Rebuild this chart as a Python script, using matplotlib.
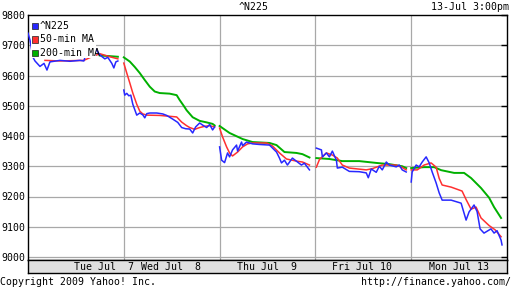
import numpy as np
import matplotlib
matplotlib.use("Agg")
import matplotlib.pyplot as plt
from matplotlib.patches import Rectangle

nan = np.nan

# time axis: trading days since Tue Jul 7 open (each day = 1 unit)
n225_t = [0.000, 0.021, 0.052, 0.073, 0.125, 0.167, 0.198, 0.229, 0.333, 0.438, 0.542, 0.583,
          0.625, 0.698, 0.750, 0.802, 0.833, 0.875, 0.896, 0.917, 0.938, nan,
          1.000, 1.010, 1.031, 1.052, 1.073, 1.094, 1.115, 1.135, 1.167, 1.198, 1.219, 1.240,
          1.271, 1.344, 1.406, 1.448, 1.510, 1.563, 1.604, 1.646, 1.688, 1.719, 1.750, 1.792,
          1.823, 1.865, 1.896, 1.927, 1.948, nan,
          2.000, 2.021, 2.052, 2.083, 2.104, 2.135, 2.177, 2.188, 2.229, 2.240, 2.281, 2.344,
          2.417, 2.521, 2.594, 2.625, 2.646, 2.677, 2.708, 2.760, 2.813, 2.854, 2.885, 2.917,
          2.938, nan,
          3.010, 3.063, 3.073, 3.115, 3.146, 3.177, 3.219, 3.229, 3.281, 3.354, 3.458, 3.531,
          3.552, 3.583, 3.635, 3.667, 3.698, 3.740, 3.771, 3.844, 3.875, 3.906, 3.948, nan,
          4.000, 4.010, 4.052, 4.083, 4.115, 4.156, 4.188, 4.219, 4.260, 4.292, 4.323, 4.417,
          4.521, 4.552, 4.573, 4.604, 4.656, 4.688, 4.719, 4.760, 4.792, 4.833, 4.865, 4.896,
          4.938, 4.948]
n225_v = [9740, 9717, 9660, 9648, 9630, 9640, 9618, 9645, 9650, 9647, 9650, 9648,
          9690, 9692, 9668, 9655, 9660, 9640, 9625, 9645, 9648, nan,
          9552, 9535, 9541, 9533, 9535, 9505, 9486, 9469, 9476, 9470, 9460, 9474,
          9476, 9476, 9473, 9468, 9456, 9445, 9428, 9424, 9423, 9410, 9430, 9443,
          9436, 9428, 9438, 9420, 9430, nan,
          9364, 9320, 9312, 9344, 9331, 9354, 9370, 9350, 9380, 9368, 9380, 9374,
          9372, 9370, 9347, 9327, 9311, 9320, 9304, 9327, 9314, 9304, 9310, 9297,
          9288, nan,
          9360, 9354, 9331, 9344, 9331, 9350, 9320, 9294, 9297, 9283, 9282, 9278,
          9262, 9291, 9280, 9300, 9288, 9314, 9304, 9298, 9304, 9288, 9281, nan,
          9248, 9281, 9304, 9298, 9314, 9331, 9311, 9281, 9245, 9212, 9188, 9188,
          9178, 9145, 9122, 9149, 9172, 9150, 9093, 9079, 9085, 9093, 9079, 9087,
          9056, 9040]

ma50_t = [0.177, 0.333, 0.583, 0.667, 0.750, 0.854, 0.938, nan,
          1.000, 1.031, 1.063, 1.094, 1.135, 1.167, 1.198, 1.240, 1.375, 1.552, 1.604, 1.656,
          1.688, 1.740, 1.792, 1.844, 1.896, 1.948, nan,
          2.000, 2.031, 2.073, 2.104, 2.135, 2.188, 2.240, 2.292, 2.344, 2.490, 2.552, 2.625,
          2.698, 2.802, 2.865, 2.938, nan,
          3.010, 3.042, 3.115, 3.177, 3.229, 3.281, 3.354, 3.531, 3.594, 3.698, 3.844, 3.906,
          3.948, nan,
          4.000, 4.063, 4.135, 4.208, 4.260, 4.292, 4.323, 4.417, 4.531, 4.573, 4.625, 4.677,
          4.729, 4.813, 4.875, 4.938]
ma50_v = [9650, 9648, 9650, 9662, 9672, 9662, 9655, nan,
          9641, 9608, 9575, 9542, 9505, 9482, 9473, 9469, 9468, 9463, 9446, 9434,
          9428, 9422, 9428, 9432, 9434, 9430, nan,
          9426, 9397, 9364, 9344, 9334, 9347, 9364, 9374, 9377, 9377, 9367, 9344,
          9324, 9317, 9314, 9304, nan,
          9297, 9322, 9344, 9337, 9327, 9304, 9294, 9288, 9292, 9304, 9304, 9296,
          9288, nan,
          9288, 9288, 9304, 9311, 9297, 9260, 9238, 9231, 9218, 9190, 9158, 9165,
          9129, 9104, 9090, 9067]

ma200_t = [0.750, 0.854, 0.938, nan,
           1.000, 1.063, 1.115, 1.167, 1.219, 1.271, 1.323, 1.375, 1.479, 1.552, 1.583, 1.625,
           1.656, 1.719, 1.792, 1.865, 1.927, 1.948, nan,
           2.000, 2.104, 2.240, 2.344, 2.521, 2.594, 2.677, 2.802, 2.865, 2.938, nan,
           3.010, 3.146, 3.281, 3.458, 3.635, 3.771, 3.906, 3.948, nan,
           4.000, 4.135, 4.240, 4.313, 4.448, 4.552, 4.625, 4.729, 4.813, 4.865, 4.938]
ma200_v = [9666, 9664, 9662, nan,
           9660, 9646, 9628, 9608, 9585, 9563, 9547, 9542, 9540, 9535, 9519, 9500,
           9485, 9462, 9450, 9445, 9440, 9435, nan,
           9433, 9410, 9390, 9380, 9377, 9370, 9347, 9344, 9340, 9329, nan,
           9327, 9324, 9317, 9317, 9311, 9307, 9300, 9294, nan,
           9294, 9297, 9297, 9287, 9278, 9278, 9261, 9228, 9196, 9165, 9129]

day_labels = ["Tue Jul  7", "Wed Jul  8", "Thu Jul  9", "Fri Jul 10", "Mon Jul 13"]
day_label_pos = [0.79, 1.49, 2.49, 3.49, 4.50]
y_ticks = [9000, 9100, 9200, 9300, 9400, 9500, 9600, 9700, 9800]

BLUE = "#2828ff"
RED = "#ff3030"
GREEN = "#00b000"
GRID = "#a8a8a8"
FONT = "DejaVu Sans Mono"
FS = 7.1

W, H = 512, 288
fig = plt.figure(figsize=(W / 100, H / 100), dpi=100, facecolor="white")

def fx(x):
    return x / W

def fy(y):
    return 1 - y / H

L, R, T, B = 28, 507, 15, 260
ax = fig.add_axes([fx(L), fy(B), fx(R - L), (B - T) / H])
ax.set_xlim(0, 5)
ax.set_ylim(9800 - (B - T) / 0.3025, 9800)
for d in range(1, 5):
    ax.axvline(d, color=GRID, lw=0.9, zorder=1)
for v in y_ticks[:-1]:
    ax.axhline(v, color=GRID, lw=0.9, zorder=1)

ax.plot(ma200_t, ma200_v, color=GREEN, lw=1.4, zorder=3)
ax.plot(ma50_t, ma50_v, color=RED, lw=1.1, zorder=4)
ax.plot(n225_t, n225_v, color=BLUE, lw=1.1, zorder=5)

ax.set_xticks([])
ax.set_yticks(y_ticks)
ax.set_yticklabels([str(v) for v in y_ticks], fontfamily=FONT, fontsize=FS)
ax.tick_params(axis="y", left=False, right=True, direction="in", length=4,
               width=1, color="black", pad=2, labelleft=True, labelright=False)
for s in ax.spines.values():
    s.set_color("black")
    s.set_linewidth(1.0)

# x label band
bax = fig.add_axes([fx(L), fy(273), fx(R - L), (273 - B) / H])
bax.set_facecolor("#e0e0e0")
bax.set_xlim(0, 5)
bax.set_ylim(0, 1)
bax.set_xticks([])
bax.set_yticks([])
for s in bax.spines.values():
    s.set_color("black")
    s.set_linewidth(1.0)
for lab, p in zip(day_labels, day_label_pos):
    bax.text(p, 0.45, lab, ha="center", va="center", fontfamily=FONT, fontsize=FS)

# legend
fig.add_artist(Rectangle((fx(31), fy(58)), fx(65), 40 / H, transform=fig.transFigure,
                         facecolor="white", edgecolor="none", zorder=10))
for i, (lab, col) in enumerate([("^N225", BLUE), ("50-min MA", RED), ("200-min MA", GREEN)]):
    yc = 26 + i * 13.5
    fig.add_artist(Rectangle((fx(31.5), fy(yc + 3)), fx(6), 6 / H, transform=fig.transFigure,
                             facecolor=col, edgecolor="#202020", lw=0.5, zorder=11))
    fig.text(fx(40), fy(yc), lab, ha="left", va="center", fontfamily=FONT, fontsize=FS, zorder=12)

fig.text(fx(254), fy(7), "^N225", ha="center", va="center", fontfamily=FONT, fontsize=FS)
fig.text(fx(509), fy(7), "13-Jul 3:00pm", ha="right", va="center", fontfamily=FONT, fontsize=FS)
fig.text(fx(0), fy(282), "Copyright 2009 Yahoo! Inc.", ha="left", va="center",
         fontfamily=FONT, fontsize=FS)
fig.text(fx(511), fy(282), "http://finance.yahoo.com/", ha="right", va="center",
         fontfamily=FONT, fontsize=FS)

fig.savefig("out.png", dpi=100, facecolor="white")
